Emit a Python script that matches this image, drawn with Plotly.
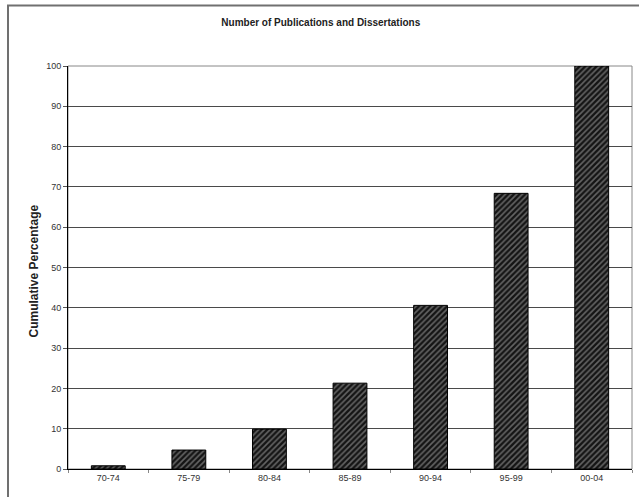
import plotly.graph_objects as go

# Five-year periods and cumulative share of publications/dissertations (%)
periods = ["70-74", "75-79", "80-84", "85-89", "90-94", "95-99", "00-04"]
cumulative_pct = [0.8, 4.7, 9.9, 21.3, 40.6, 68.4, 100.0]
y_ticks = list(range(0, 101, 10))

W, H = 639, 497
M_L, M_R, M_T, M_B = 68, 7, 66, 28
plot_w = W - M_L - M_R
plot_h = H - M_T - M_B

fig = go.Figure(
    go.Bar(
        x=periods,
        y=cumulative_pct,
        width=0.42,
        marker=dict(
            color="#111111",
            line=dict(color="black", width=1),
            pattern=dict(shape="/", bgcolor="#141414", fgcolor="#b4b4b4",
                         size=4, solidity=0.4, fillmode="overlay"),
        ),
        showlegend=False,
    )
)

font_family = "Liberation Sans, Arial, sans-serif"

fig.update_layout(
    width=W,
    height=H,
    margin=dict(l=M_L, r=M_R, t=M_T, b=M_B, autoexpand=False),
    paper_bgcolor="white",
    plot_bgcolor="white",
    font=dict(family=font_family, size=9, color="#333333"),
    title=dict(
        text="<b>Number of Publications and Dissertations</b>",
        x=0.502, xanchor="center",
        y=1 - 22 / H, yanchor="middle",
        font=dict(size=10, color="#222222"),
    ),
    bargap=0.58,
)

fig.update_xaxes(
    type="category",
    showline=True, linecolor="black", linewidth=1,
    ticks="outside", tickson="boundaries", ticklen=3, tickcolor="#888888",
    showgrid=False,
    tickfont=dict(size=9, color="#333333"),
    automargin=False,
)

fig.update_yaxes(
    range=[0, 100],
    tickvals=y_ticks,
    showline=True, linecolor="black", linewidth=1,
    ticks="outside", ticklen=4, tickcolor="#555555",
    showgrid=True, gridcolor="#4a4a4a", gridwidth=1,
    zeroline=False,
    tickfont=dict(size=9, color="#333333"),
    automargin=False,
)

# Plot-area box (gray right edge) and outer chart frame
fig.add_shape(type="rect", xref="paper", yref="paper",
              x0=0, x1=1, y0=0, y1=1,
              line=dict(color="#888888", width=1), layer="below")
fig.add_shape(type="rect", xref="paper", yref="paper",
              x0=(8 - M_L) / plot_w, x1=1.1,
              y0=-0.2, y1=1 + (M_T - 5.5) / plot_h,
              line=dict(color="#707070", width=2))

fig.add_annotation(
    text="<b>Cumulative Percentage</b>",
    xref="paper", yref="paper",
    x=(34 - M_L) / plot_w, y=0.49,
    textangle=-90, showarrow=False,
    xanchor="center", yanchor="middle",
    font=dict(size=12, color="#222222"),
)

fig.write_html("out.html")
